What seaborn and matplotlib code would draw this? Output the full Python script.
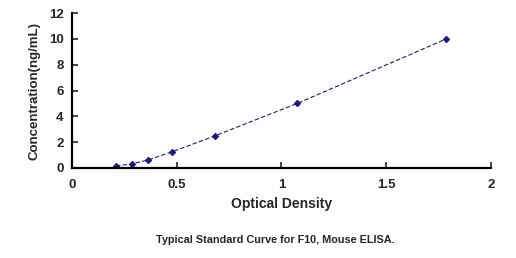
import matplotlib
matplotlib.use("Agg")
import matplotlib.pyplot as plt
import seaborn as sns
import pandas as pd

od = [0.21, 0.286, 0.364, 0.478, 0.684, 1.075, 1.786]
conc = [0.156, 0.312, 0.625, 1.25, 2.5, 5.0, 10.0]
xticks = [0, 0.5, 1, 1.5, 2]
xticklabels = ["0", "0.5", "1", "1.5", "2"]
yticks = [0, 2, 4, 6, 8, 10, 12]

sns.set_theme(style="ticks")
plt.rcParams['font.family'] = ['Liberation Sans', 'DejaVu Sans']

df = pd.DataFrame({"od": od, "conc": conc})
fig = plt.figure(figsize=(5.16, 2.58), dpi=100)
ax = fig.add_axes([0.1395, 0.349, 0.812, 0.600])
sns.lineplot(data=df, x="od", y="conc", ax=ax, color="#1a1a80", linewidth=0.8,
             linestyle=(0, (4, 2)), marker="D", markersize=3.2,
             markeredgecolor="#1a1a80", markerfacecolor="#1a1a80")
ax.set_xlim(0, 2)
ax.set_ylim(0, 12)
ax.set_xticks(xticks)
ax.set_xticklabels(xticklabels)
ax.set_yticks(yticks)
for s in ["top", "right"]:
    ax.spines[s].set_visible(False)
for s in ["left", "bottom"]:
    ax.spines[s].set_linewidth(1.6)
    ax.spines[s].set_color("black")
ax.tick_params(direction="in", length=4, width=1.2, labelsize=9.5)
ax.tick_params(axis="x", pad=8)
ax.tick_params(axis="y", pad=6)
for lab in ax.get_xticklabels() + ax.get_yticklabels():
    lab.set_fontweight("bold")
ax.set_xlabel("Optical Density", fontsize=10, fontweight="bold", labelpad=4)
ax.set_ylabel("Concentration(ng/mL)", fontsize=9.5, fontweight="bold", labelpad=6)
fig.text(0.533, 0.07, "Typical Standard Curve for F10, Mouse ELISA.", ha="center",
         va="center", fontsize=7.8, fontweight="bold")
fig.savefig("out.png", dpi=100)
